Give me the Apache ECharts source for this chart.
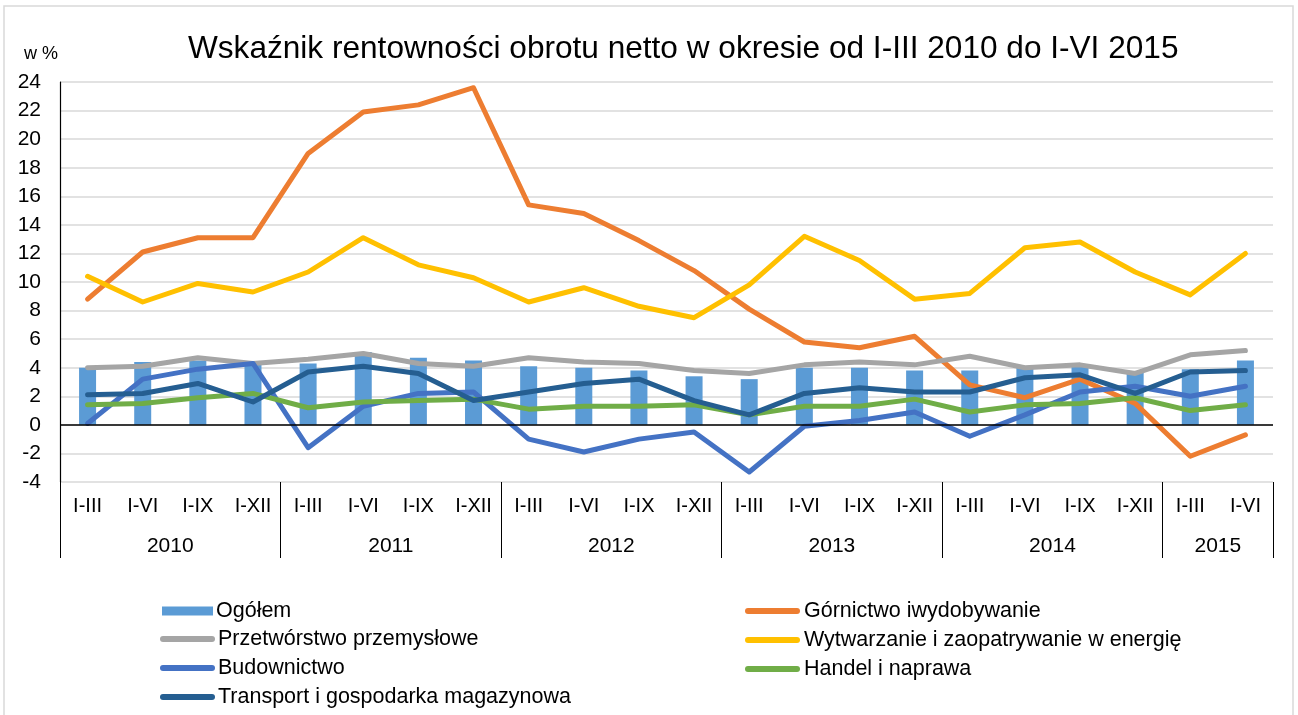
<!DOCTYPE html>
<html>
<head>
<meta charset="utf-8">
<script src="https://cdn.jsdelivr.net/npm/echarts@6/dist/echarts.min.js"></script>
<style>
html, body { margin: 0; padding: 0; background: #fff; }
#chart { width: 1298px; height: 715px; }
</style>
</head>
<body>
<div id="chart"></div>
<script>
// okresy (kwartały narastająco) i lata
var quarters = ['I-III', 'I-VI', 'I-IX', 'I-XII', 'I-III', 'I-VI', 'I-IX', 'I-XII',
	'I-III', 'I-VI', 'I-IX', 'I-XII', 'I-III', 'I-VI', 'I-IX', 'I-XII',
	'I-III', 'I-VI', 'I-IX', 'I-XII', 'I-III', 'I-VI'];
var years = ['2010', '2011', '2012', '2013', '2014', '2015'];
// środek grupy roku na osi (w jednostkach kategorii)
var yearCenters = [2, 6, 10, 14, 18, 21];

var ogolem = [4.0, 4.4, 4.5, 4.3, 4.3, 5.1, 4.7, 4.5, 4.1, 4.0, 3.8, 3.4, 3.2, 4.0, 4.0, 3.8, 3.8, 4.0, 4.1, 3.7, 3.9, 4.5];
var gornictwo = [8.8, 12.1, 13.1, 13.1, 19.0, 21.9, 22.4, 23.6, 15.4, 14.8, 12.9, 10.8, 8.1, 5.8, 5.4, 6.2, 2.8, 1.9, 3.2, 1.5, -2.2, -0.7];
var przetworstwo = [4.0, 4.1, 4.7, 4.3, 4.6, 5.0, 4.3, 4.1, 4.7, 4.4, 4.3, 3.8, 3.6, 4.2, 4.4, 4.2, 4.8, 4.0, 4.2, 3.6, 4.9, 5.2];
var energia = [10.4, 8.6, 9.9, 9.3, 10.7, 13.1, 11.2, 10.3, 8.6, 9.6, 8.3, 7.5, 9.8, 13.2, 11.5, 8.8, 9.2, 12.4, 12.8, 10.7, 9.1, 12.0];
var budownictwo = [0.1, 3.2, 3.9, 4.3, -1.6, 1.3, 2.2, 2.3, -1.0, -1.9, -1.0, -0.5, -3.3, -0.1, 0.3, 0.9, -0.8, 0.7, 2.3, 2.7, 2.0, 2.7];
var handel = [1.4, 1.5, 1.9, 2.2, 1.2, 1.6, 1.7, 1.8, 1.1, 1.3, 1.3, 1.4, 0.7, 1.3, 1.3, 1.8, 0.9, 1.4, 1.5, 1.9, 1.0, 1.4];
var transport = [2.1, 2.2, 2.9, 1.6, 3.7, 4.1, 3.6, 1.7, 2.3, 2.9, 3.2, 1.7, 0.7, 2.2, 2.6, 2.3, 2.3, 3.3, 3.5, 2.2, 3.7, 3.8];

var fontFam = "'Liberation Sans', Arial, sans-serif";
// ikona legendy dla linii - zaokrąglony pasek
var capsule = 'path://M3,0 H52 A3,3 0 0 1 52,6 H3 A3,3 0 0 1 3,0 Z';

function lineSeries(name, color, data) {
	return {
		name: name,
		type: 'line',
		data: data,
		symbol: 'none',
		lineStyle: { color: color, width: 5, cap: 'round', join: 'round' },
		itemStyle: { color: color },
		silent: true
	};
}

function legendBox(left, top, icon, w, h, names) {
	return {
		orient: 'vertical',
		left: left,
		top: top,
		icon: icon,
		itemWidth: w,
		itemHeight: h,
		itemGap: 7,
		itemStyle: { borderWidth: 0 },
		lineStyle: { width: 0 },
		textStyle: { fontFamily: fontFam, fontSize: 21.5, color: '#000', padding: [0, 0, 0, -2] },
		data: names
	};
}

var myChart = echarts.init(document.getElementById('chart'));

var option = {
	backgroundColor: '#fff',
	animation: false,
	textStyle: { fontFamily: fontFam, color: '#000' },
	title: {
		text: 'Wskaźnik rentowności obrotu netto w okresie od I-III 2010 do I-VI 2015',
		left: 183,
		top: 28,
		textStyle: { fontFamily: fontFam, fontSize: 31.6, fontWeight: 'normal', color: '#000' }
	},
	graphic: [{
		type: 'rect',
		shape: { x: 4, y: 6, width: 1289, height: 730 },
		style: { fill: 'none', stroke: '#D9D9D9', lineWidth: 1.5 },
		silent: true
	}, {
		type: 'text',
		style: { x: 24, y: 54, text: 'w %', fontSize: 18, fontFamily: fontFam, fill: '#000', verticalAlign: 'middle' },
		silent: true
	}],
	legend: [
		legendBox(157, 595, 'rect', 51, 9, ['Ogółem']),
		legendBox(155, 623, capsule, 55, 6, ['Przetwórstwo przemysłowe', 'Budownictwo', 'Transport i gospodarka magazynowa']),
		legendBox(740, 595, capsule, 57, 6, ['Górnictwo iwydobywanie', 'Wytwarzanie i zaopatrywanie w energię', 'Handel i naprawa'])
	],
	grid: { left: 60, right: 25, top: 82, bottom: 233 },
	xAxis: [{
		type: 'category',
		data: quarters,
		position: 'bottom',
		axisLine: { show: false, onZero: false },
		axisTick: {
			show: true,
			length: 76,
			lineStyle: { color: '#000', width: 1 },
			interval: function (index) { return index % 4 === 0; }
		},
		axisLabel: { interval: 0, margin: 14, fontSize: 20, color: '#000', fontFamily: fontFam },
		splitLine: { show: false }
	}, {
		type: 'value',
		position: 'bottom',
		min: 0,
		max: 22,
		interval: 1,
		axisLine: { show: false, onZero: false },
		axisTick: { show: false },
		splitLine: { show: false },
		axisLabel: {
			margin: 54,
			fontSize: 21,
			color: '#000',
			fontFamily: fontFam,
			formatter: function (v) {
				var k = yearCenters.indexOf(v);
				return k >= 0 ? years[k] : '';
			}
		}
	}],
	yAxis: {
		type: 'value',
		min: -4,
		max: 24,
		interval: 2,
		axisLine: { show: true, lineStyle: { color: '#000', width: 1.2 } },
		axisTick: { show: false },
		axisLabel: { margin: 19, fontSize: 21, color: '#000', fontFamily: fontFam },
		splitLine: { lineStyle: { color: '#D9D9D9', width: 1.5 } }
	},
	series: [{
		name: 'Ogółem',
		type: 'bar',
		data: ogolem,
		barWidth: 17,
		itemStyle: { color: '#5B9BD5' },
		silent: true,
		markLine: {
			silent: true,
			symbol: 'none',
			label: { show: false },
			lineStyle: { color: '#000', type: 'solid', width: 1.5 },
			data: [{ yAxis: 0 }]
		}
	},
		lineSeries('Górnictwo iwydobywanie', '#ED7D31', gornictwo),
		lineSeries('Przetwórstwo przemysłowe', '#A5A5A5', przetworstwo),
		lineSeries('Wytwarzanie i zaopatrywanie w energię', '#FFC000', energia),
		lineSeries('Budownictwo', '#4472C4', budownictwo),
		lineSeries('Handel i naprawa', '#70AD47', handel),
		lineSeries('Transport i gospodarka magazynowa', '#255E91', transport)
	]
};
myChart.setOption(option);
window.addEventListener('resize', function () {
	myChart.resize();
});
</script>
</body>
</html>
